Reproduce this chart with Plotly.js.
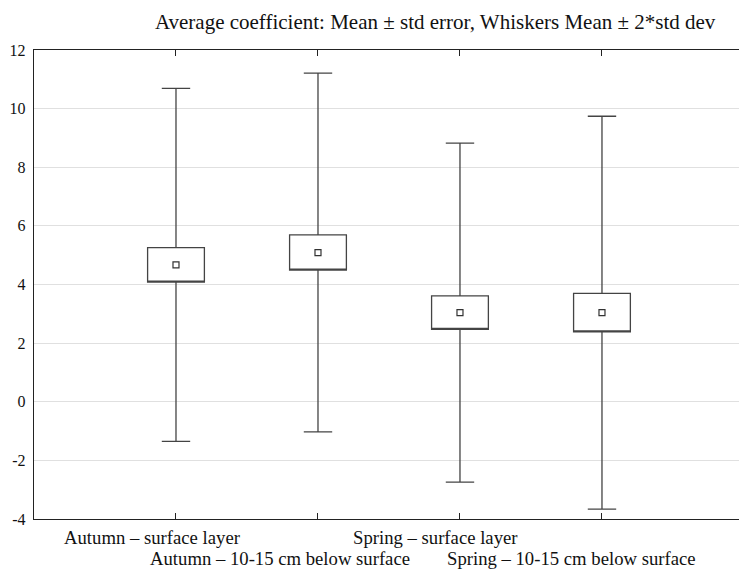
<!DOCTYPE html>
<html>
<head>
<meta charset="utf-8">
<script src="https://cdn.plot.ly/plotly-3.0.1.min.js"></script>
<style>html,body{margin:0;padding:0;background:#fff;}#chart{width:739px;height:569px;}</style>
</head>
<body>
<div id="chart"></div>
<script>
// Data
var categories = ["Autumn – surface layer", "Autumn – 10-15 cm below surface", "Spring – surface layer", "Spring – 10-15 cm below surface"];
var means = [4.67, 5.09, 3.04, 3.04];
var stdErrors = [0.59, 0.60, 0.57, 0.655];
var stdDevs = [3.01, 3.06, 2.89, 3.35];
var yTicks = [-4, -2, 0, 2, 4, 6, 8, 10, 12];
var yTickText = ["-4", "-2", "0", "2", "4", "6", "8", "10", "12"];

var q1 = [], q3 = [], lo = [], hi = [];
for (var i = 0; i < means.length; i++) {
  q1.push(means[i] - stdErrors[i]);
  q3.push(means[i] + stdErrors[i]);
  lo.push(means[i] - 2 * stdDevs[i]);
  hi.push(means[i] + 2 * stdDevs[i]);
}

var box = {
  type: 'box',
  x: categories,
  q1: q1, median: q1, q3: q3,
  lowerfence: lo, upperfence: hi,
  boxpoints: false,
  width: 0.4,
  whiskerwidth: 0.5,
  fillcolor: '#ffffff',
  line: {color: '#444444', width: 1.3},
  hoverinfo: 'skip',
  showlegend: false
};
var meanPts = {
  type: 'scatter', mode: 'markers',
  x: categories, y: means,
  marker: {symbol: 'square', size: 6, color: '#ffffff', line: {color: '#333333', width: 1.2}},
  showlegend: false, hoverinfo: 'skip'
};

var labelX = [-0.169, 0.732, 1.831, 2.782];
var labelShift = [-18, -39, -18, -39];
var annotations = categories.map(function (c, i) {
  return {text: c, xref: 'x', x: labelX[i], yref: 'paper', y: 0, yanchor: 'middle', yshift: labelShift[i],
          showarrow: false, font: {family: 'Liberation Serif', size: 18.7, color: '#111'}};
});

var layout = {
  width: 739, height: 569,
  margin: {l: 34, r: 0, t: 50, b: 50},
  paper_bgcolor: '#fff', plot_bgcolor: '#fff',
  font: {family: 'Liberation Serif', size: 16, color: '#111'},
  title: {text: 'Average coefficient: Mean ± std error, Whiskers Mean ± 2*std dev',
          x: 0.569, xref: 'paper', xanchor: 'center', y: 0.962, yanchor: 'middle', yref: 'container',
          font: {family: 'Liberation Serif', size: 21, color: '#111'}},
  xaxis: {type: 'category', categoryarray: categories, range: [-1, 3.965],
          showticklabels: false, ticks: 'inside', ticklen: 6, tickcolor: '#222',
          showline: true, linecolor: '#222', linewidth: 1.2, mirror: 'ticks', showgrid: false, zeroline: false},
  yaxis: {range: [-4, 12], tickvals: yTicks, ticktext: yTickText, ticks: '', ticklabelstandoff: 4,
          showline: true, linecolor: '#222', linewidth: 1.2, mirror: false,
          showgrid: true, gridcolor: '#e0e0e0', gridwidth: 1, zeroline: false,
          tickfont: {family: 'Liberation Serif', size: 16, color: '#111'}},
  annotations: annotations
};

Plotly.newPlot('chart', [box, meanPts], layout, {displayModeBar: false, staticPlot: true});
</script>
</body>
</html>
